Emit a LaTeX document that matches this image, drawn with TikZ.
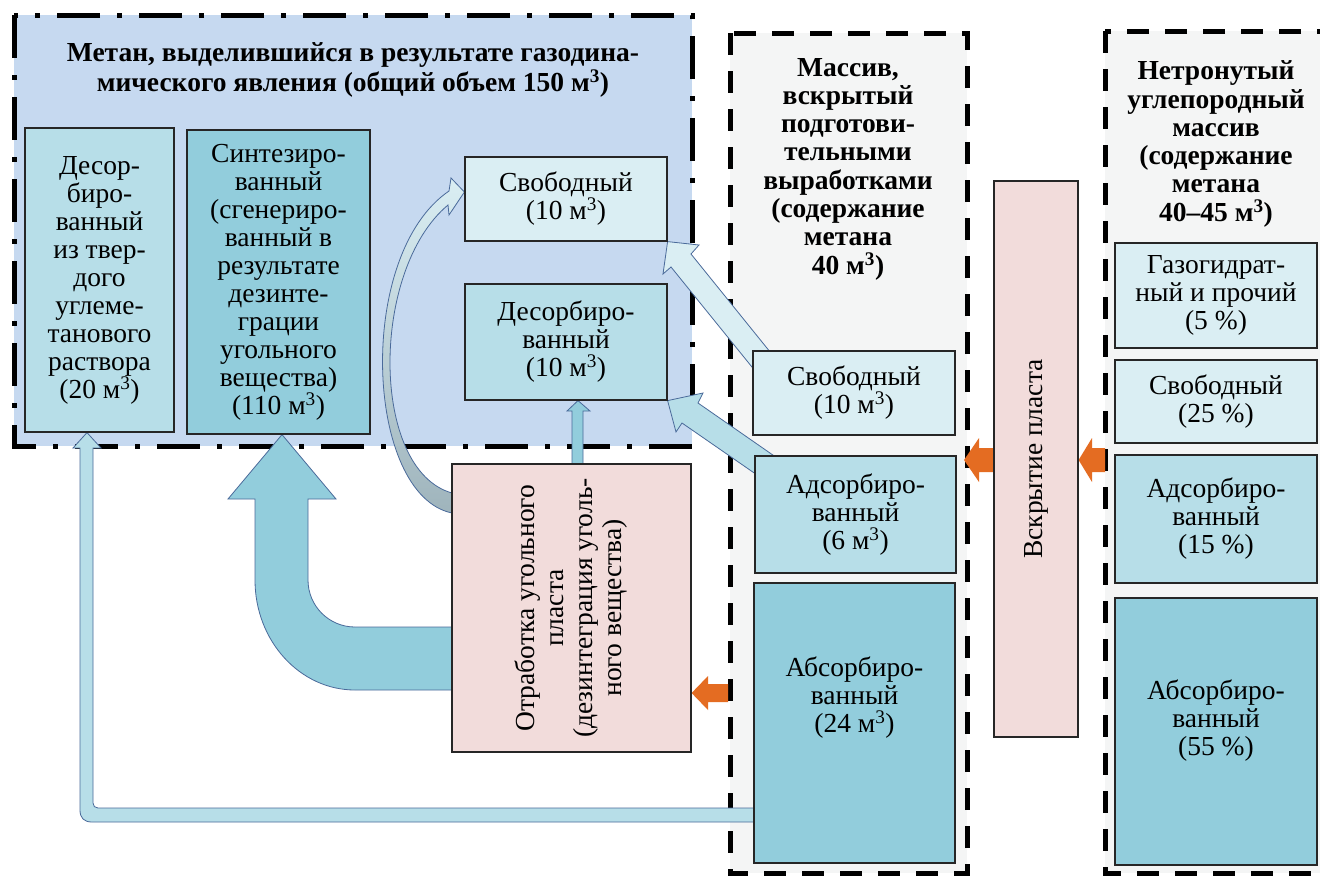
\documentclass[tikz,border=0pt]{standalone}
\usepackage{fontspec}
\setmainfont{Liberation Serif}
\usetikzlibrary{calc}
\definecolor{bigbg}{HTML}{C6D9F0}
\definecolor{pale}{HTML}{DAEEF3}
\definecolor{mid}{HTML}{B7DEE8}
\definecolor{deep}{HTML}{92CDDC}
\definecolor{pinkbox}{HTML}{F2DCDB}
\definecolor{orng}{HTML}{E46C22}
\definecolor{zonegray}{HTML}{F4F5F5}
\definecolor{arrowline}{HTML}{4A6A9A}
\definecolor{curvegray}{HTML}{9FB4BC}
\newcommand{\cub}{\textsuperscript{3}}
\pgfdeclarelayer{zones}
\pgfdeclarelayer{arrows}
\pgfsetlayers{zones,arrows,main}
\tikzset{
  box/.style={draw=black!85, line width=1.2pt, align=center, inner sep=0pt,
    font=\fontsize{27.5}{28}\selectfont},
  dashdotzone/.style={draw=black, line width=5pt, dash pattern=on 43pt off 17pt on 5pt off 17pt},
  dashzone/.style={draw=black, line width=5pt, dash pattern=on 22pt off 16pt, fill=zonegray},
  ttl/.style={align=center, inner sep=0pt, font=\bfseries\fontsize{27.5}{28.3}\selectfont},
  blockarrow/.style={draw=arrowline, line width=0.8pt, line join=miter},
}
\begin{document}
\begin{tikzpicture}[x=1pt,y=-1pt]
\useasboundingbox (0,0) rectangle (1320,876);
\begin{pgfonlayer}{zones}
  \fill[white] (0,0) rectangle (1320,876);
  \draw[dashdotzone, fill=bigbg] (14,15) rectangle (692,446);
  \draw[dashzone] (730,33) rectangle (967,873);
  \draw[dashzone] (1105,31) rectangle (1330,873);
\end{pgfonlayer}

% titles
\node[ttl, font=\bfseries\fontsize{27.5}{30}\selectfont] (t1) at (353,70)
  {Метан, выделившийся в результате газодина-\\мического явления (общий объем 150 м\cub)};
\node[ttl] (t2) at (848,169)
  {Массив,\\вскрытый\\подготови-\\тельными\\выработками\\(содержание\\метана\\40 м\cub)};
\node[ttl] (t3) at (1216,144)
  {Нетронутый\\углепородный\\массив\\(содержание\\метана\\40–45 м\cub)};

% left zone boxes
\node[box, fill=mid, minimum width=149pt, minimum height=304pt] (desA) at (99.5,280)
  {Десор-\\биро-\\ванный\\из твер-\\дого\\углеме-\\танового\\раствора\\(20 м\cub)};
\node[box, fill=deep, minimum width=183pt, minimum height=304pt] (synt) at (278.5,282)
  {Синтезиро-\\ванный\\(сгенериро-\\ванный в\\результате\\дезинте-\\грации\\угольного\\вещества)\\(110 м\cub)};
\node[box, fill=pale, minimum width=202pt, minimum height=84pt] (svobA) at (566,199)
  {Свободный\\(10 м\cub)};
\node[box, fill=mid, minimum width=202pt, minimum height=116pt] (desB) at (566,342)
  {Десорбиро-\\ванный\\(10 м\cub)};
\node[box, fill=pinkbox, minimum width=239pt, minimum height=288pt] (otrb) at (571.5,608) {};
\node[align=center, inner sep=0pt, rotate=90, font=\fontsize{27.5}{29}\selectfont] (otr) at (otrb.center)
  {Отработка угольного\\пласта\\(дезинтеграция уголь-\\ного вещества)};

% middle zone boxes
\node[box, fill=pale, minimum width=202pt, minimum height=84pt] (svobB) at (854,393)
  {Свободный\\(10 м\cub)};
\node[box, fill=mid, minimum width=201pt, minimum height=117pt] (adsB) at (855.5,514.5)
  {Адсорбиро-\\ванный\\(6 м\cub)};
\node[box, fill=deep, minimum width=201pt, minimum height=280pt] (absB) at (854.5,723)
  {Абсорбиро-\\ванный\\(24 м\cub)\\\mbox{}\\\mbox{}};
\node[box, fill=pinkbox, minimum width=84pt, minimum height=556pt] (vskrb) at (1036,459) {};
\node[inner sep=0pt, rotate=90, font=\fontsize{27.5}{28}\selectfont] (vskr) at (vskrb.center) {Вскрытие пласта};

% right zone boxes
\node[box, fill=pale, minimum width=202pt, minimum height=105pt] (gazC) at (1216,295.5)
  {Газогидрат-\\ный и прочий\\(5~\%)};
\node[box, fill=pale, minimum width=202pt, minimum height=83pt] (svobC) at (1216,401.5)
  {Свободный\\(25~\%)};
\node[box, fill=mid, minimum width=202pt, minimum height=128pt] (adsC) at (1216,519)
  {Адсорбиро-\\ванный\\(15~\%)};
\node[box, fill=deep, minimum width=202pt, minimum height=267pt] (absC) at (1216,731.5)
  {Абсорбиро-\\ванный\\(55~\%)\\\mbox{}};

\begin{pgfonlayer}{arrows}
  % thin arrow: otr -> desB
  \draw[blockarrow, fill=deep] (desB.south -| 578,0) -- (590,411) -- (583,411)
    -- (otrb.north -| 583,0) -- ++(0,6) -- ++(-11,0) -- (572,411) -- (567,411) -- cycle;
  % long arrow: absB -> desA
  \draw[blockarrow, fill=mid] (desA.south -| 87,0) -- (101,448) -- (93,448) -- (93,803)
    .. controls (93,806) and (95,808) .. (98,808) -- (absB.west |- 0,808) -- ++(6,0)
    -- ++(0,14) -- (92,822) .. controls (84,822) and (80,818) .. (80,810)
    -- (80,448) -- (73,448) -- cycle;
  % big bent arrow: otr -> synt
  \draw[blockarrow, fill=deep] (synt.south -| 282,0) -- (336,499) -- (308,499) -- (308,580)
    .. controls (308,606) and (329,627) .. (355,627) -- (otrb.west |- 0,627) -- ++(8,0)
    -- ++(0,63) -- (355,690) .. controls (300,690) and (255,641) .. (255,580)
    -- (255,499) -- (228,499) -- cycle;
  % diagonal arrow: svobB -> svobA
  \draw[blockarrow, fill=pale] (svobA.south east) -- (699,245) -- (691,254) -- (779,363)
    -- (756,372) -- (671,267) -- (663,274) -- cycle;
  % diagonal arrow: adsB -> desB
  \draw[blockarrow, fill=mid] (desB.south east) -- (703,393) -- (698,403) -- (780,460)
    -- (760,477) -- (682,423) -- (676,432) -- cycle;
  % curved arrow: otr -> svobA
  \draw[blockarrow, top color=pale, bottom color=curvegray]
    (otrb.west |- 0,513) -- ++(6,0) -- ++(0,-20) -- (452,493)
    .. controls (370,470) and (370,270) .. (448,205) -- (449,215) -- (svobA.west |- 467,192)
    -- (451,178) -- (449,191) .. controls (355,255) and (365,495) .. (452,513) -- cycle;
  % orange arrows
  \fill[orng] (964,460) -- (979,438) -- (979,448) -- (vskrb.west |- 0,448) -- ++(0,24)
    -- (979,472) -- (979,482) -- cycle;
  \fill[orng] (vskrb.east |- 0,460) -- (1092,438) -- (1092,448) -- (1105,448) -- (1105,472)
    -- (1092,472) -- (1092,482) -- cycle;
  \fill[orng] (otrb.east |- 0,693) -- (708,676) -- (708,684) -- (728,684) -- (728,702)
    -- (708,702) -- (708,710) -- cycle;
\end{pgfonlayer}
\end{tikzpicture}
\end{document}
